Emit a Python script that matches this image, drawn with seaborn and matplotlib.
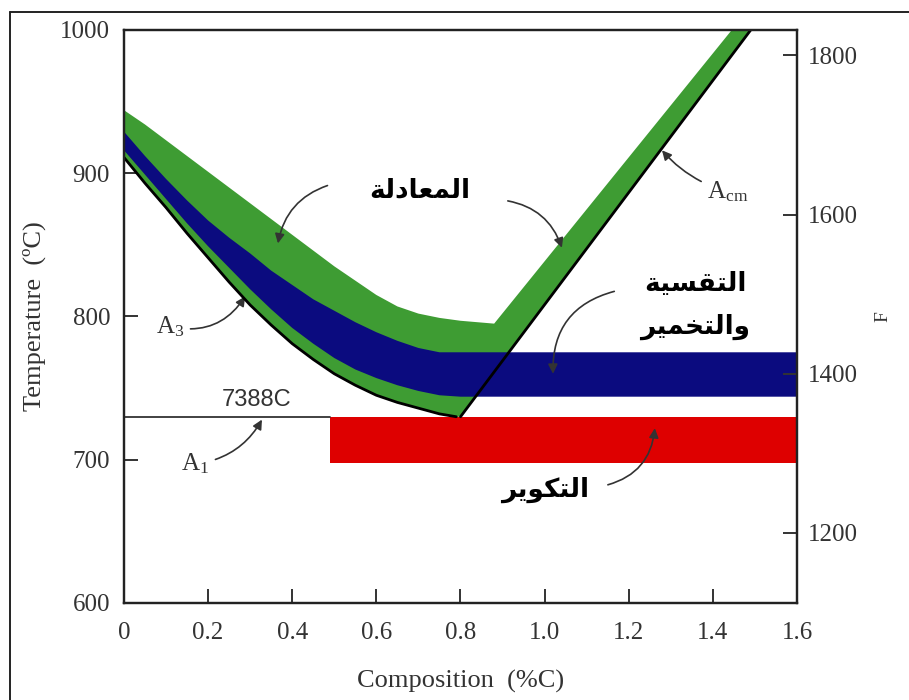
import numpy as np
import matplotlib
matplotlib.use("Agg")
import matplotlib.pyplot as plt
import seaborn as sns
from matplotlib.lines import Line2D

# --- data (°C vs wt% C) ---
a3_x = [0.0, 0.05, 0.1, 0.15, 0.2, 0.25, 0.3, 0.35, 0.4, 0.45, 0.5,
        0.55, 0.6, 0.65, 0.7, 0.75, 0.79]
a3_t = [911, 893, 876, 858, 841, 824, 808, 794, 781, 770, 760,
        752, 745, 740, 736, 732, 730]
acm_x = [0.80, 1.49]
acm_t = [730, 1000]
a1_x = [0.0, 0.49]
a1_t = [730, 730]

norm_x = [0.0, 0.05, 0.1, 0.15, 0.2, 0.25, 0.3, 0.35, 0.4, 0.45, 0.5,
          0.55, 0.6, 0.65, 0.7, 0.75, 0.8, 0.88, 1.445]
norm_t = [944, 934, 923, 912, 901, 890, 879, 868, 857, 846, 835,
          825, 815, 807, 802, 799, 797, 795, 1000]

anneal_top_x = [0.0, 0.05, 0.1, 0.15, 0.2, 0.25, 0.3, 0.35, 0.4, 0.45,
                0.5, 0.55, 0.6, 0.65, 0.7, 0.75, 1.6]
anneal_top_t = [929, 912, 896, 881, 867, 855, 844, 832, 822, 812,
                804, 796, 789, 783, 778, 775, 775]
anneal_bot_x = [0.0, 0.05, 0.1, 0.15, 0.2, 0.25, 0.3, 0.35, 0.4, 0.45,
                0.5, 0.55, 0.6, 0.65, 0.7, 0.75, 0.8, 1.6]
anneal_bot_t = [916, 899, 882, 865, 849, 834, 819, 805, 792, 781,
                771, 763, 757, 752, 748, 745, 744, 744]

sphero_x = [0.49, 1.6]
sphero_lo = 698
sphero_hi = 730

x_ticks = [0, 0.2, 0.4, 0.6, 0.8, 1.0, 1.2, 1.4, 1.6]
x_labels = ["0", "0.2", "0.4", "0.6", "0.8", "1.0", "1.2", "1.4", "1.6"]
c_ticks = [600, 700, 800, 900, 1000]
f_ticks = [1200, 1400, 1600, 1800]

# minimal arabic shaping (matplotlib has no complex text layout)
FORMS = {
    'ا': (0xFE8D, 0xFE8E, None, None),
    'ل': (0xFEDD, 0xFEDE, 0xFEDF, 0xFEE0),
    'م': (0xFEE1, 0xFEE2, 0xFEE3, 0xFEE4),
    'ع': (0xFEC9, 0xFECA, 0xFECB, 0xFECC),
    'د': (0xFEA9, 0xFEAA, None, None),
    'ة': (0xFE93, 0xFE94, None, None),
    'ت': (0xFE95, 0xFE96, 0xFE97, 0xFE98),
    'ق': (0xFED5, 0xFED6, 0xFED7, 0xFED8),
    'س': (0xFEB1, 0xFEB2, 0xFEB3, 0xFEB4),
    'ي': (0xFEF1, 0xFEF2, 0xFEF3, 0xFEF4),
    'و': (0xFEED, 0xFEEE, None, None),
    'خ': (0xFEA5, 0xFEA6, 0xFEA7, 0xFEA8),
    'ر': (0xFEAD, 0xFEAE, None, None),
    'ك': (0xFED9, 0xFEDA, 0xFEDB, 0xFEDC),
}

def shape(word):
    out = []
    for i, ch in enumerate(word):
        iso, fin, ini, med = FORMS[ch]
        prev_j = i > 0 and FORMS[word[i - 1]][2] is not None
        next_j = i < len(word) - 1 and ini is not None
        if prev_j and next_j:
            c = med
        elif prev_j:
            c = fin
        elif next_j:
            c = ini
        else:
            c = iso
        out.append(chr(c))
    return "".join(reversed(out))

def c2f(t):
    return t * 9 / 5 + 32

sns.set_theme(style="ticks")
plt.rcParams["font.family"] = ["Liberation Serif", "DejaVu Serif"]

GREEN = "#3e9c33"
BLUE = "#0b0b7f"
RED = "#de0000"
GREY = "#333333"

fig = plt.figure(figsize=(9.09, 7.0), dpi=100)
ax = fig.add_axes([0.1364, 0.1386, 0.7404, 0.8186])

# normalizing band: above A3 / Acm
gx = norm_x + [acm_x[1]] + acm_x[::-1] + a3_x[::-1]
gy = norm_t + [acm_t[1]] + acm_t[::-1] + a3_t[::-1]
ax.fill(gx, gy, color=GREEN, lw=0, zorder=1)

# full annealing band
bx = anneal_top_x + anneal_bot_x[::-1]
by = anneal_top_t + anneal_bot_t[::-1]
ax.fill(bx, by, color=BLUE, lw=0, zorder=2)

# spheroidizing band
ax.fill_between(sphero_x, sphero_lo, sphero_hi, color=RED, lw=0, zorder=2)

sns.lineplot(x=a3_x, y=a3_t, ax=ax, color="black", lw=2.0, sort=False, zorder=4)
sns.lineplot(x=acm_x, y=acm_t, ax=ax, color="black", lw=2.0, sort=False, zorder=4)
sns.lineplot(x=a1_x, y=a1_t, ax=ax, color=GREY, lw=1.3, sort=False, zorder=3)

ax.set_xlim(0, 1.6)
ax.set_ylim(600, 1000)
ax.set_xticks(x_ticks)
ax.set_xticklabels(x_labels)
ax.set_yticks(c_ticks)
ax.tick_params(direction="in", length=10, width=1.4, labelsize=18,
               colors=GREY, pad=14)
ax.tick_params(axis="y", pad=10)
for s in ax.spines.values():
    s.set_linewidth(1.6)
    s.set_color("#222222")

ax.set_xlabel("Composition  (%C)", fontsize=19, color=GREY, labelpad=18)
ax.set_ylabel("Temperature  (ºC)", fontsize=19, color=GREY, labelpad=10)

ax2 = ax.twinx()
ax2.set_ylim(c2f(600), c2f(1000))
ax2.set_yticks(f_ticks)
ax2.tick_params(direction="in", length=10, width=1.4, labelsize=18,
                colors=GREY, pad=8)
ax2.set_ylabel("F", fontsize=14, color=GREY, labelpad=12)
for s in ax2.spines.values():
    s.set_linewidth(1.6)
    s.set_color("#222222")

arr = dict(arrowstyle="-|>", color=GREY, lw=1.2, mutation_scale=14,
           shrinkA=2, shrinkB=0)
ar_font = dict(family=["DejaVu Sans"], fontweight="bold", fontsize=19,
               color="black", ha="center", va="center")

ax.text(0.316, 742, "7388C", family=["Liberation Sans", "DejaVu Sans"],
        fontsize=17, color=GREY, ha="center", va="center")

ax.annotate(r"$\mathregular{A_3}$", xy=(0.288, 814), xytext=(0.11, 793),
            fontsize=18, color=GREY, ha="center", va="center",
            arrowprops=dict(arr, connectionstyle="arc3,rad=0.35"))
ax.annotate(r"$\mathregular{A_1}$", xy=(0.328, 728), xytext=(0.17, 697),
            fontsize=18, color=GREY, ha="center", va="center",
            arrowprops=dict(arr, connectionstyle="arc3,rad=0.25"))
ax.annotate(r"$\mathregular{A_{cm}}$", xy=(1.279, 916), xytext=(1.435, 887),
            fontsize=18, color=GREY, ha="center", va="center",
            arrowprops=dict(arr, connectionstyle="arc3,rad=-0.15"))

ax.text(0.704, 888, shape("المعادلة"), **ar_font)
ax.annotate("", xy=(0.366, 851), xytext=(0.49, 892),
            arrowprops=dict(arr, connectionstyle="arc3,rad=0.3"))
ax.annotate("", xy=(1.041, 848), xytext=(0.906, 881),
            arrowprops=dict(arr, connectionstyle="arc3,rad=-0.3"))

ax.text(1.358, 823, shape("التقسية"), **ar_font)
ax.text(1.358, 793, shape("والتخمير"), **ar_font)
ax.annotate("", xy=(1.02, 760), xytext=(1.172, 818),
            arrowprops=dict(arr, connectionstyle="arc3,rad=0.4"))

ax.text(1.001, 679, shape("التكوير"), **ar_font)
ax.annotate("", xy=(1.262, 722), xytext=(1.144, 682),
            arrowprops=dict(arr, connectionstyle="arc3,rad=0.35"))

# outer frame of the picture
fig.add_artist(Line2D([0.011, 1.0], [0.983, 0.983], color="#222222", lw=1.4))
fig.add_artist(Line2D([0.011, 0.011], [0.0, 0.983], color="#222222", lw=1.4))

fig.savefig("out.png", dpi=100)
